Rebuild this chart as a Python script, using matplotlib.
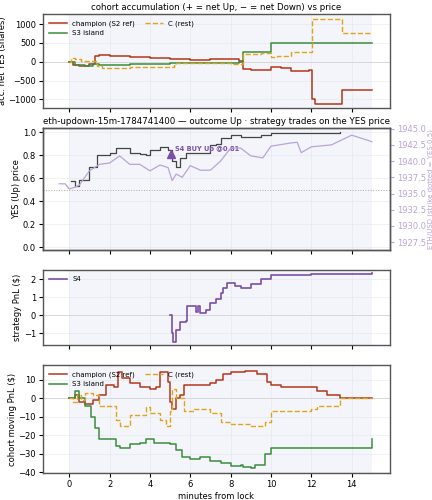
import matplotlib
matplotlib.use("Agg")
import matplotlib.pyplot as plt

# panel 1: accumulated net YES shares
champ_acc_t = [0,0.2,0.5,1.0,1.3,1.5,2,3,4,5,6,7,8,8.4,8.6,9,10,10.5,11,11.9,12.05,12.2,13.4,13.5,15]
champ_acc_v = [0,-80,-100,-50,150,190,150,130,100,60,50,60,70,20,-200,-230,-150,-160,-250,-230,-1000,-1130,-1130,-760,-760]
s3_acc_t = [0,0.3,0.8,1.2,1.5,3,5,7,8.4,8.6,9,9.9,10,15]
s3_acc_v = [0,-80,-120,-60,-90,-70,-40,-30,0,250,270,250,510,510]
c_acc_t = [0,0.1,0.3,0.6,1.4,1.6,3,5.2,5.3,7,8,8.4,8.6,9.5,10,10.3,11,12,12.05,13.4,13.5,15]
c_acc_v = [0,100,80,30,-100,-170,-140,-80,-40,-40,-60,-50,200,220,130,160,250,250,1130,1130,760,760]

# panel 2: YES price and ETH
yes_t = [0.1,0.3,0.5,1.0,1.4,2,2.3,3,3.5,3.8,4,4.5,4.9,5.1,5.3,5.5,5.8,6.5,7,7.3,7.5,8,8.5,9.5,10,13.4]
yes_v = [0.57,0.53,0.58,0.70,0.80,0.82,0.86,0.82,0.81,0.80,0.84,0.87,0.84,0.75,0.70,0.77,0.82,0.82,0.89,0.90,0.95,0.97,0.96,0.97,0.99,1.0]
eth_t = [-0.5,-0.2,0,0.3,0.5,1,1.5,2,2.5,3,3.5,4,4.5,4.9,5.1,5.3,5.6,6,6.5,7,7.5,8,8.5,9,9.6,10,11,11.3,11.5,12,13,14,14.5,15]
eth_v = [1936.5,1936.5,1935.7,1936,1936.3,1938.5,1939.5,1939.7,1940.8,1939.5,1939.5,1938.5,1939.4,1939,1937,1938,1937.5,1939.3,1938.6,1938.6,1940,1942,1942,1940.8,1940.5,1942.3,1942.8,1942.9,1941.3,1942.2,1942.5,1944,1943.5,1943]
trade_t = [5.05]
trade_p = [0.81]

# panel 3: S4 PnL
s4_t = [5,5.1,5.15,5.3,5.5,5.8,5.85,6.1,6.3,6.4,6.5,6.8,7,7.3,7.5,7.6,7.8,8.2,8.5,9,9.5,10,12,15]
s4_v = [0,-1.0,-1.5,-0.8,-0.4,-0.3,0.5,0.5,0.2,0.5,0.1,0.3,0.7,0.9,1.2,1.5,1.8,1.6,1.5,1.7,2.0,2.2,2.3,2.35]

# panel 4: cohort moving PnL
champ_p_t = [0,0.3,0.5,0.8,1.2,1.5,1.8,2.2,2.4,2.6,3,3.5,4,4.3,4.5,4.9,5.0,5.1,5.3,5.5,5.7,6.5,7,7.3,7.6,8,8.5,8.7,9.3,9.8,10,10.5,12,12.3,12.8,13.4,15]
champ_p_v = [0,2,-2,-3,-1,2,7,6,14,11,8,6,5,6,14,9,-2,-6,0,2,7,7,8,10,13,14,14,15,13,9,7,6,6,4,2,0,0]
s3_p_t = [0,0.3,0.5,0.8,1.1,1.3,1.5,2,2.3,2.5,3,3.5,3.8,4.2,5,5.3,5.6,6,6.5,7,7.5,8,8.5,8.6,9,9.2,9.7,10,14.98,15]
s3_p_v = [0,4,0,-4,-10,-16,-22,-22,-26,-27,-25,-24,-22,-24,-25,-28,-32,-33,-32,-34,-35,-36.5,-36,-37,-38,-36,-30,-27,-27,-22]
c_p_t = [0,0.2,0.4,0.6,0.8,1.2,1.5,2,2.3,2.5,3,3.5,3.8,4,4.5,4.8,5.0,5.1,5.3,5.7,6.2,7,7.5,8,9,9.7,10,12,12.3,13.3,13.4,15]
c_p_v = [0,-2,2,-1,3,2,-4,-4,-12,-15,-9,-9,-5,-8,-12,-15,-7,5,0,-7,-6,-8,-13,-14,-15,-13,-7,-6,-4,-4,0,0]

RUST, GREEN, GOLD, PURPLE, LAV = "#b5361b", "#3a8d3f", "#e0a31a", "#7b4fa8", "#b9a3d8"
plt.rcParams.update({"font.size": 6, "axes.edgecolor": "#555555", "axes.linewidth": 1.0,
                     "xtick.labelsize": 6, "ytick.labelsize": 6, "axes.labelsize": 6})

fig = plt.figure(figsize=(4.32, 5.0), dpi=100)
W = 432; H = 500
def mk(top, bot):
    return fig.add_axes([43/W, 1-bot/H, (390-43)/W, (bot-top)/H])
ax1 = mk(14, 108); ax2 = mk(128, 250); ax3 = mk(270, 345); ax4 = mk(365, 473)
for ax in (ax1, ax2, ax3, ax4):
    ax.axvspan(0, 15, color="#eef1f8", alpha=0.7, lw=0, zorder=0)
    ax.grid(True, color="#dde0e6", lw=0.5, alpha=0.6)
    ax.set_xlim(-1.3, 15.9)
    ax.set_xticks(range(0, 15, 2))
    ax.tick_params(length=3, width=0.8, pad=2)
    if ax is not ax2:
        ax.axhline(0, color="#cccccc", lw=0.6, zorder=0.5)
for ax in (ax1, ax2, ax3):
    ax.set_xticklabels([])

ax1.step(champ_acc_t, champ_acc_v, where="post", color=RUST, lw=1.1, label="champion (S2 ref)")
ax1.step(s3_acc_t, s3_acc_v, where="post", color=GREEN, lw=1.1, label="S3 island")
ax1.step(c_acc_t, c_acc_v, where="post", color=GOLD, lw=1.0, ls="--", label="C (rest)")
ax1.set_ylim(-1230, 1270)
ax1.set_ylabel("acc. net YES (shares)", labelpad=1)
ax1.set_title("cohort accumulation (+ = net Up, − = net Down) vs price", fontsize=6.2, pad=3)
ax1.legend(loc="upper left", ncol=2, fontsize=5, frameon=False, handlelength=2.5, columnspacing=1.5)

ax2.step(yes_t, yes_v, where="post", color="#444444", lw=0.9)
ax2.axhline(0.5, color="#aaaaaa", lw=0.7, ls=":")
ax2.set_ylim(-0.026, 1.035)
ax2.set_ylabel("YES (Up) price", labelpad=1)
ax2.set_title("eth-updown-15m-1784741400 — outcome Up · strategy trades on the YES price", fontsize=6.2, pad=3)
ax2.plot(trade_t, trade_p, marker="^", color=PURPLE, ms=6, ls="none", zorder=5)
ax2.annotate("S4 BUY Up @0.81", (trade_t[0], trade_p[0]), xytext=(3, 2), textcoords="offset points",
             color=PURPLE, fontsize=4.8, fontweight="bold")
ax2b = ax2.twinx()
ax2b.plot(eth_t, eth_v, color=LAV, lw=0.9)
ax2b.set_ylim(1926.3, 1945.1)
ax2b.set_yticks([1927.5, 1930, 1932.5, 1935, 1937.5, 1940, 1942.5, 1945])
ax2b.tick_params(colors=LAV, labelsize=6, length=3, pad=2)
ax2b.set_ylabel("ETH/USD (strike dotted = YES 0.5)", color=LAV, fontsize=5, labelpad=1)
ax2b.spines["right"].set_color("#555555")

ax3.step(s4_t, s4_v, where="post", color=PURPLE, lw=1.2, label="S4")
ax3.set_ylim(-1.65, 2.5)
ax3.set_yticks([-1, 0, 1, 2])
ax3.set_ylabel("strategy PnL ($)", labelpad=1)
ax3.legend(loc="upper left", fontsize=5, frameon=False, handlelength=2.5)

ax4.step(champ_p_t, champ_p_v, where="post", color=RUST, lw=1.1, label="champion (S2 ref)")
ax4.step(s3_p_t, s3_p_v, where="post", color=GREEN, lw=1.1, label="S3 island")
ax4.step(c_p_t, c_p_v, where="post", color=GOLD, lw=1.0, ls="--", label="C (rest)")
ax4.set_ylim(-40.5, 18)
ax4.set_yticks([-40, -30, -20, -10, 0, 10])
ax4.set_ylabel("cohort moving PnL ($)", labelpad=1)
ax4.set_xlabel("minutes from lock", labelpad=2)
ax4.legend(loc="upper left", ncol=2, fontsize=5, frameon=False, handlelength=2.5, columnspacing=1.5)

fig.savefig("out.png", dpi=100)
